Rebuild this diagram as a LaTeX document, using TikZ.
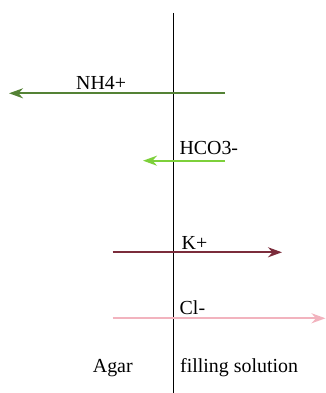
\documentclass[tikz,border=0pt]{standalone}
\usepackage{fontspec}
\setmainfont{Liberation Serif}
\usetikzlibrary{arrows.meta}
\definecolor{nhg}{HTML}{548235}
\definecolor{hcg}{HTML}{7DD03A}
\definecolor{kred}{HTML}{7B2C3B}
\definecolor{clp}{HTML}{F2B3BE}
\tikzset{
  lbl/.style={inner sep=0pt, anchor=base west, font=\fontsize{19.9}{22}\selectfont},
  ion/.style={line width=2pt, -{Stealth[length=14pt,width=10pt,inset=4.5pt]}},
}
\begin{document}
\begin{tikzpicture}[x=1pt,y=1pt]
\useasboundingbox (0,0) rectangle (325,393);
% membrane
\coordinate (mt) at (173.5,380);
\coordinate (mb) at (173.5,0);
\draw[line width=1.6pt] (mt) -- (mb);
% NH4+
\coordinate (n1) at (225,299.7);
\coordinate (n2) at (9,299.7);
\draw[ion, nhg] (n1) -- (n2);
\node[lbl] (tnh) at (76,303.7) {NH4+};
% HCO3-
\coordinate (h1) at (225,232.3);
\coordinate (h2) at (143,232.3);
\draw[ion, hcg] (h1) -- (h2);
\node[lbl] (thc) at (179.3,238) {HCO3-};
% K+
\coordinate (k1) at (112.7,140.7);
\coordinate (k2) at (282,140.7);
\draw[ion, kred] (k1) -- (k2);
\node[lbl] (tk) at (181.5,143) {K+};
% Cl-
\coordinate (c1) at (112.7,74.7);
\coordinate (c2) at (325.5,74.7);
\draw[ion, clp] (c1) -- (c2);
\node[lbl] (tcl) at (179.5,78.7) {Cl-};
% bottom labels
\node[lbl] (tag) at (92.7,20.7) {Agar};
\node[lbl] (tfs) at (180,20.7) {filling solution};
\end{tikzpicture}
\end{document}
